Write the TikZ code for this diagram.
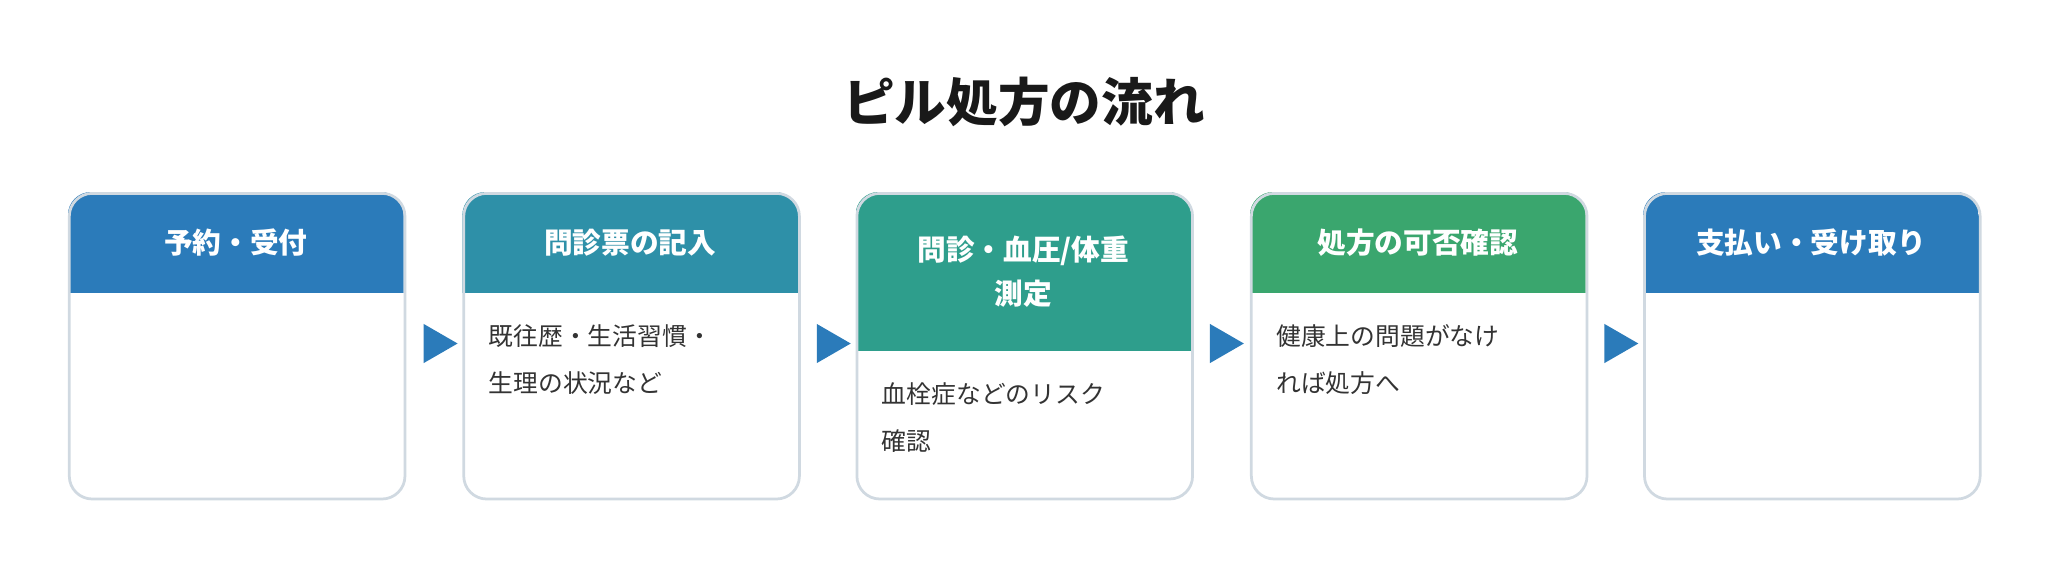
\documentclass[tikz,border=0pt]{standalone}
\usepackage{fontspec}
\setmainfont{Noto Sans CJK JP}
\usetikzlibrary{shapes.geometric}
\definecolor{hblue}{HTML}{2B7BBA}
\definecolor{hteal}{HTML}{2E90A8}
\definecolor{hgreen}{HTML}{2E9E8C}
\definecolor{hlgreen}{HTML}{3AA66E}
\definecolor{edge}{HTML}{D0D9E1}
\definecolor{ink}{HTML}{333333}
\tikzset{
  head/.style={text=white, font=\fontsize{12.5}{19}\selectfont\bfseries, align=center},
  body/.style={text=ink, anchor=north west, font=\fontsize{10.8}{20.5}\selectfont, align=left},
  tri/.style={isosceles triangle, fill=hblue, minimum height=26*0.02cm, minimum width=28*0.02cm, inner sep=0pt, isosceles triangle apex angle=60}
}
% box: name, left x, header bottom y, colour, header, body
\newcommand{\flowstep}[6]{
  \begin{scope}
    \clip[rounded corners=10] (#2,147) rectangle (#2+257,381);
    \fill[white] (#2,147) rectangle (#2+257,381);
    \fill[#4] (#2,147) rectangle (#2+257,#3);
  \end{scope}
  \node[draw=edge, line width=1.2pt, rounded corners=10, minimum width=257*0.02cm, minimum height=234*0.02cm, anchor=north west, inner sep=0pt] (#1) at (#2,147) {};
  \node[head] (#1h) at (#2+128.5,{(147+#3)/2}) {#5};
  \node[body] (#1t) at (#2+14,242) {#6};
}
\begin{document}
\begin{tikzpicture}[x=0.02cm,y=-0.02cm]
\useasboundingbox (0,0) rectangle (1568,429);

\node[font=\fontsize{22.5}{27}\selectfont\bfseries, text=black!90] (title) at (784,78) {ピル処方の流れ};

\flowstep{s1}{52}{224}{hblue}{予約・受付}{}
\flowstep{s2}{354}{224}{hteal}{問診票の記入}{既往歴・生活習慣・\\生理の状況など}
\flowstep{s3}{655}{269}{hgreen}{問診・血圧/体重\\測定}{}
\node[body] (s3t) at (655+14,287) {血栓症などのリスク\\確認};
\flowstep{s4}{957}{224}{hlgreen}{処方の可否確認}{健康上の問題がなけ\\れば処方へ}
\flowstep{s5}{1258}{224}{hblue}{支払い・受け取り}{}

\node[tri] (a1) at (333,263) {};
\node[tri] (a2) at (634,263) {};
\node[tri] (a3) at (935,263) {};
\node[tri] (a4) at (1237,263) {};
\end{tikzpicture}
\end{document}
